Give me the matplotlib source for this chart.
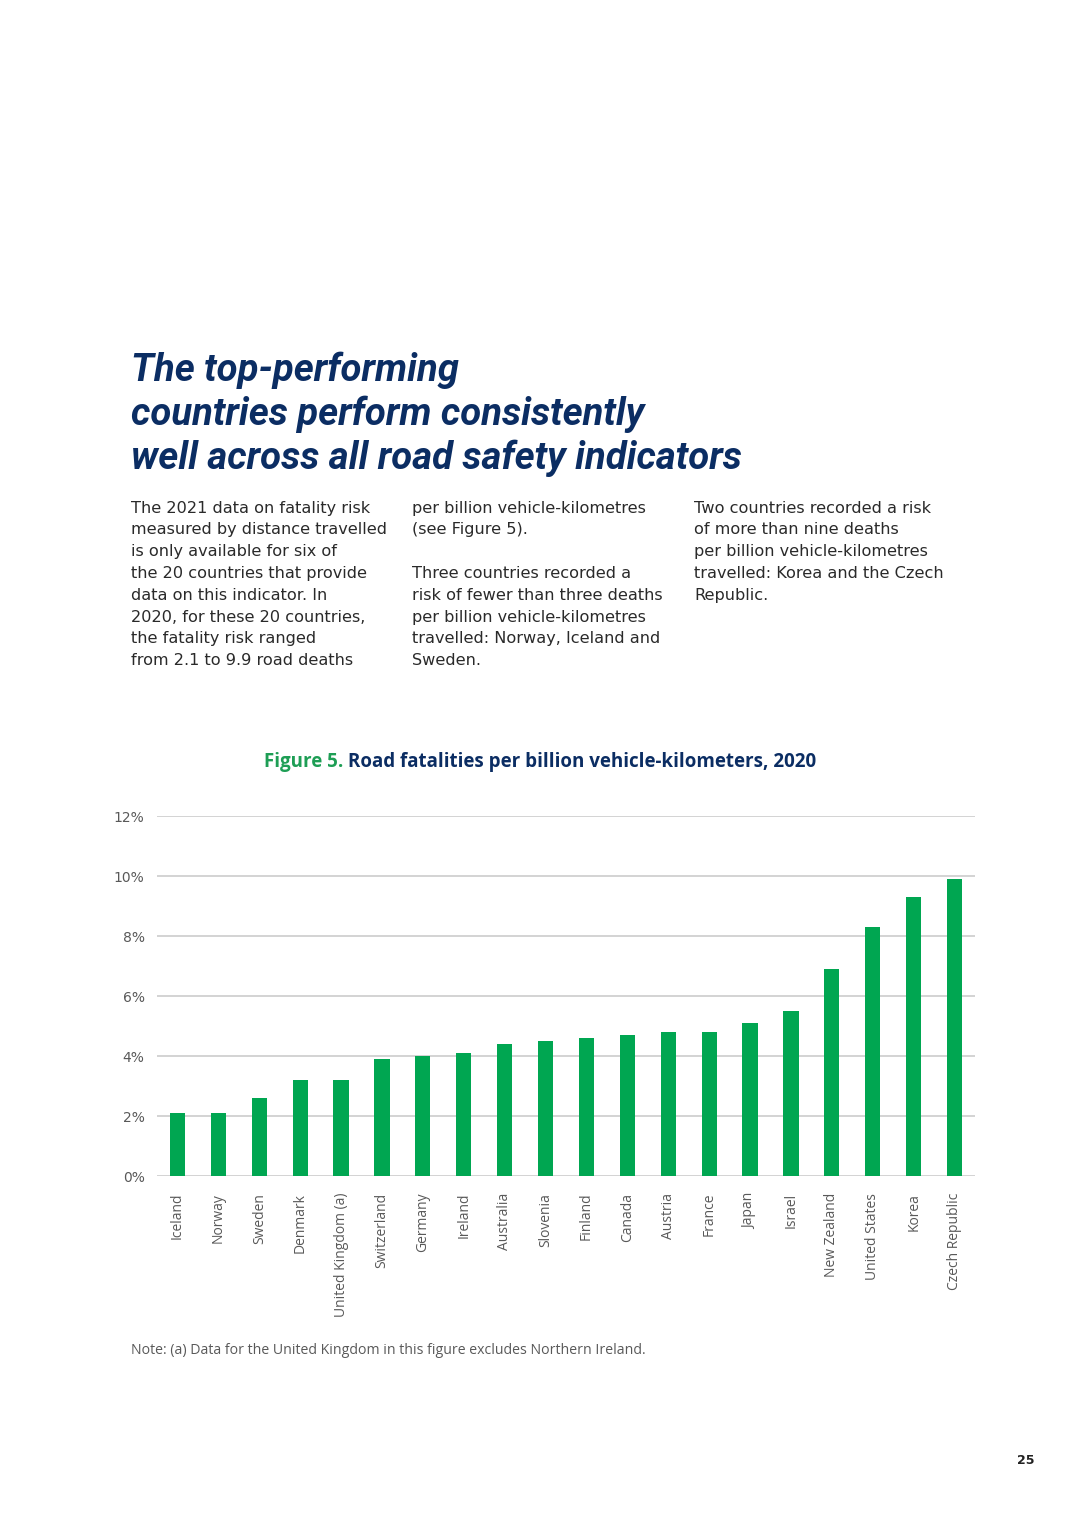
import matplotlib.pyplot as plt
from matplotlib.ticker import FuncFormatter

# data
countries = ["Iceland", "Norway", "Sweden", "Denmark", "United Kingdom (a)",
             "Switzerland", "Germany", "Ireland", "Australia", "Slovenia",
             "Finland", "Canada", "Austria", "France", "Japan", "Israel",
             "New Zealand", "United States", "Korea", "Czech Republic"]
values = [2.1, 2.1, 2.6, 3.2, 3.2, 3.9, 4.0, 4.1, 4.4, 4.5,
          4.6, 4.7, 4.8, 4.8, 5.1, 5.5, 6.9, 8.3, 9.3, 9.9]
yticks = [0, 2, 4, 6, 8, 10, 12]

navy = "#0b2d63"
green = "#00a651"
grey = "#595959"

W, H = 1080, 1528
fig = plt.figure(figsize=(W / 100, H / 100), dpi=100)

def fx(x):
    return x / W

def fy(y):
    return 1 - y / H

# headline
headline = ["The top-performing",
            "countries perform consistently",
            "well across all road safety indicators"]
for i, line in enumerate(headline):
    fig.text(fx(131), fy(370 + i * 44), line, fontsize=27.5, fontweight="bold",
             fontstyle="italic", color=navy, va="center",
             family=["Roboto", "DejaVu Sans"])

# body columns
col1 = ["The 2021 data on fatality risk", "measured by distance travelled",
        "is only available for six of", "the 20 countries that provide",
        "data on this indicator. In", "2020, for these 20 countries,",
        "the fatality risk ranged", "from 2.1 to 9.9 road deaths"]
col2 = ["per billion vehicle-kilometres", "(see Figure 5).", "",
        "Three countries recorded a", "risk of fewer than three deaths",
        "per billion vehicle-kilometres", "travelled: Norway, Iceland and",
        "Sweden."]
col3 = ["Two countries recorded a risk", "of more than nine deaths",
        "per billion vehicle-kilometres", "travelled: Korea and the Czech",
        "Republic."]
for x0, col in [(131, col1), (412, col2), (694, col3)]:
    for i, line in enumerate(col):
        fig.text(fx(x0), fy(508 + i * 21.8), line, fontsize=11.6,
                 color="#2a2a2a", va="center", family="DejaVu Sans")

# figure caption
cap_kw = dict(fontsize=13.5, fontweight="bold", va="center",
              family=["Open Sans", "DejaVu Sans"])
t1 = fig.text(fx(264), fy(762), "Figure 5. ", color="#1e9e55", **cap_kw)
fig.canvas.draw()
bb = t1.get_window_extent()
fig.text(bb.x1 / W, fy(762), "Road fatalities per billion vehicle-kilometers, 2020",
         color=navy, **cap_kw)

# chart
ax = fig.add_axes([fx(157), fy(1176), fx(975 - 157), (1176 - 816) / H])
x = range(len(countries))
ax.bar(x, values, width=0.37, color=green, zorder=3)
ax.set_xlim(-0.5, len(countries) - 0.5)
ax.set_ylim(0, 12)
ax.set_yticks(yticks)
ax.yaxis.set_major_formatter(FuncFormatter(lambda v, p: f"{v:.0f}%"))
ax.grid(axis="y", color="#c8c8c8", linewidth=1.1, zorder=0)
for s in ax.spines.values():
    s.set_visible(False)
ax.tick_params(axis="y", length=0, pad=9, labelsize=10, labelcolor=grey)
ax.tick_params(axis="x", length=0, pad=12)
ax.set_xticks(list(x))
ax.set_xticklabels(countries, rotation=90, fontsize=10, color=grey,
                   family=["Open Sans", "DejaVu Sans"])

fig.text(fx(131), fy(1351), "Note: (a) Data for the United Kingdom in this figure excludes Northern Ireland.",
         fontsize=10.2, color=grey, va="center", family=["Open Sans", "DejaVu Sans"])
fig.text(fx(1035), fy(1460), "25", fontsize=9, fontweight="bold", color="#222222",
         ha="right", va="center")

fig.savefig("out.png", dpi=100)
